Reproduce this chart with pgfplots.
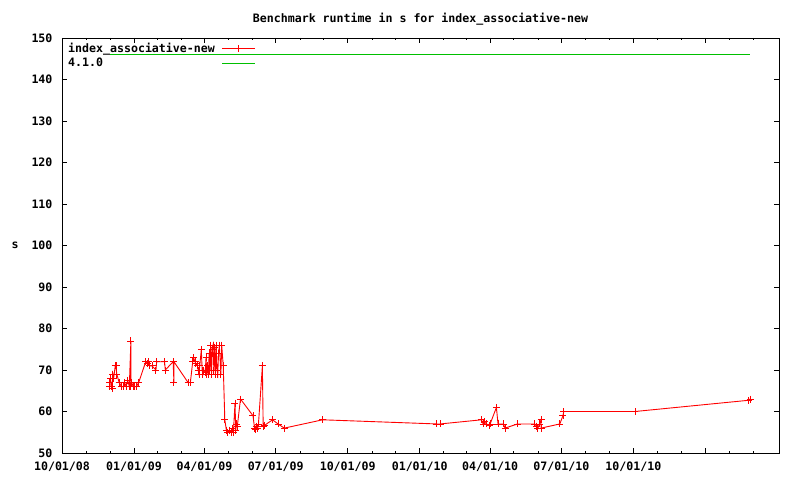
\documentclass[border=0pt]{standalone}
\usepackage{fontspec}
\setmainfont{DejaVu Sans Mono}
\usepackage{pgfplots}
\pgfplotsset{compat=1.18}
\definecolor{gpred}{RGB}{255,0,0}
\definecolor{gpgreen}{RGB}{0,192,0}
\begin{document}
\begin{tikzpicture}
\useasboundingbox (-62pt,-27pt) rectangle (738pt,453pt);
\begin{axis}[
 scale only axis, width=717pt, height=415pt,
 xmin=0, xmax=916, ymin=50, ymax=150,
 xtick={0,92,182,273,365,457,547,638,730,822},
 xticklabels={10/01/08,01/01/09,04/01/09,07/01/09,10/01/09,01/01/10,04/01/10,07/01/10,10/01/10,{}},
 minor xtick={30.7,61.3,122,152,212,243,304,334,396,426,487,517,577,608,669,699,761,791,852,883},
 ytick={50,60,...,150},
 tick align=inside,
 major tick length=5pt, minor tick length=2.5pt,
 tick style={black, line width=0.8pt},
 axis line style={line width=0.8pt},
 /pgf/number format/assume math mode=true,
 ticklabel style={font=\fontsize{11.6}{13}\selectfont\bfseries},
 xticklabel style={yshift=-5pt},
 yticklabel style={xshift=-6pt},
 title={Benchmark runtime in s for index\_associative-new},
 title style={font=\fontsize{11.6}{13}\selectfont\bfseries, at={(0.5,1)}, anchor=south, yshift=3pt},
 ylabel={s},
 ylabel style={font=\fontsize{11.6}{13}\selectfont\bfseries, at={(axis description cs:0,0.5)}, rotate=-90, anchor=center, xshift=-47pt},
 legend plot pos=right,
 legend cell align=left,
 legend style={at={(0,1)}, anchor=north west, xshift=2pt, yshift=-1pt, draw=none, fill=none,
   font=\fontsize{11.6}{13}\selectfont\bfseries, row sep=0pt, inner sep=2pt,
   /tikz/every odd column/.append style={column sep=5pt}},
 legend image code/.code={\draw[mark repeat=2,mark phase=2,#1] plot coordinates {(0pt,0pt)(16.5pt,0pt)(33pt,0pt)};},
]
\addplot[color=gpred, line width=0.9pt, mark=+, mark size=3.5pt, mark options={gpred, solid, line width=0.9pt}] coordinates {
(61,66)(61,67)(62,68)(63,66)(64,65.5)(65,69)(66,68)(68,71)(69,71)(70,69)(73,67)(76,66)(78,66)(79,66)(80,67)(82,66)(84,67.5)(86,66)(88,77)(88,66)(89,67)(91,66)(93,66)(95,66)(98,67)
(107,72)(109,71.5)(110,72)(112,71)(115,71)(120,70)(121,72)(131,72)(132,70)(142,72)(143,67)(143,72)
(161,67)(164,67)(167,72)(168,73)(170,72)(171,71.5)(173,71)(174,70)(175,69)(176,71)(178,75)(179,70)(180,69)(181,70)(183,69.5)(184,73)(185,69)(186,71)(187,69)(188,74)(189,70)(190,76)(191,69)(192,75)(193,76)(194,70)(195,75.5)(196,69)(197,76)(198,70)(199,69)(200,74)(201,76)(203,69)(204,76)(206,71)
(208,58)(210,55.5)(212,55)(214,55.5)(216,55)(218,56)(219,55)(221,62)(222,55.5)(223,57)(224,56.5)(228,63)
(244,59)(246,56)(247,55.7)(248,56.5)(250,56)(251,57)(256,71)(257,56.5)(259,56.7)(269,58)(276,57)(284,56)
(333,58)(479,57)(483,57)(536,58)(538,57)(540,57.5)(542,57)(546,56.7)(547,57)(555,61)(557,57)(564,57)(566,56)(582,57)
(604,57)(606,56.5)(608,56)(610,57)(612,58)(612,56)(636,57)(640,59)(641,60)(732,60)(877,62.7)(879,63)
};
\addlegendentry{index\_associative-new}
\addplot[color=gpgreen, line width=0.9pt, no marks] coordinates {(61,146)(879,146)};
\addlegendentry{4.1.0}
\end{axis}
\end{tikzpicture}
\end{document}
